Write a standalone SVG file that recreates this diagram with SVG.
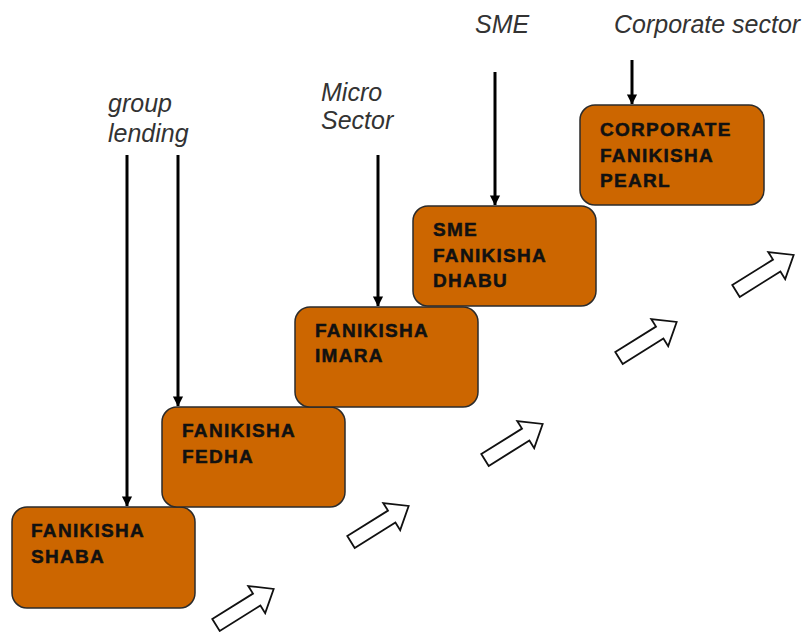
<svg xmlns="http://www.w3.org/2000/svg" width="810" height="632" viewBox="0 0 810 632">
<defs>
<style>
.box{fill:#CC6600;stroke:#2b2b2b;stroke-width:1.5}
.bt{font-family:"Liberation Sans",Arial,sans-serif;font-weight:bold;font-size:19px;letter-spacing:1.3px;fill:#111;stroke:#111;stroke-width:0.5}
.lb{font-family:"Liberation Sans",Arial,sans-serif;font-style:italic;font-size:25px;fill:#333}
.vl{stroke:#000;stroke-width:3;fill:none;marker-end:url(#ah)}
.ba{fill:#fff;stroke:#111;stroke-width:1.8;stroke-linejoin:miter}
</style>
<marker id="ah" markerWidth="4" markerHeight="4" refX="3.2" refY="2" orient="auto" markerUnits="strokeWidth">
<path d="M0,0.3 L3.4,2 L0,3.7 Z" fill="#000"/>
</marker>
<path id="blk" d="M0,-7 L48,-7 L48,-16 L68,0 L48,16 L48,7 L0,7 Z"/>
</defs>
<rect width="810" height="632" fill="#fff"/>
<g id="connectors">
<line class="vl" x1="127" y1="155" x2="127" y2="506"/>
<line class="vl" x1="178" y1="155" x2="178" y2="406"/>
<line class="vl" x1="378" y1="155" x2="378" y2="306"/>
<line class="vl" x1="495" y1="72" x2="495" y2="205"/>
<line class="vl" x1="632" y1="60" x2="632" y2="104"/>
</g>
<g id="step-arrows">
<use href="#blk" class="ba" transform="translate(216,625) rotate(-32)"/>
<use href="#blk" class="ba" transform="translate(351,542) rotate(-32)"/>
<use href="#blk" class="ba" transform="translate(485,460) rotate(-32)"/>
<use href="#blk" class="ba" transform="translate(619,358) rotate(-32)"/>
<use href="#blk" class="ba" transform="translate(736,291) rotate(-32)"/>
</g>
<g id="labels">
<text class="lb" x="108" y="112">group</text>
<text class="lb" x="108" y="142">lending</text>
<text class="lb" x="321" y="101">Micro</text>
<text class="lb" x="321" y="129">Sector</text>
<text class="lb" x="475" y="33">SME</text>
<text class="lb" x="614" y="33">Corporate sector</text>
</g>
<g id="node-shaba">
<rect class="box" x="12" y="507" width="183" height="101" rx="15"/>
<text class="bt" x="31" y="537">FANIKISHA</text>
<text class="bt" x="31" y="563">SHABA</text>
</g>
<g id="node-fedha">
<rect class="box" x="162" y="407" width="183" height="100" rx="15"/>
<text class="bt" x="182" y="437">FANIKISHA</text>
<text class="bt" x="182" y="463">FEDHA</text>
</g>
<g id="node-imara">
<rect class="box" x="295" y="307" width="183" height="100" rx="15"/>
<text class="bt" x="315" y="337">FANIKISHA</text>
<text class="bt" x="315" y="362">IMARA</text>
</g>
<g id="node-dhabu">
<rect class="box" x="413" y="206" width="183" height="100" rx="15"/>
<text class="bt" x="433" y="236">SME</text>
<text class="bt" x="433" y="262">FANIKISHA</text>
<text class="bt" x="433" y="287">DHABU</text>
</g>
<g id="node-pearl">
<rect class="box" x="580" y="105" width="184" height="100" rx="15"/>
<text class="bt" x="600" y="136">CORPORATE</text>
<text class="bt" x="600" y="162">FANIKISHA</text>
<text class="bt" x="600" y="187">PEARL</text>
</g>
</svg>
